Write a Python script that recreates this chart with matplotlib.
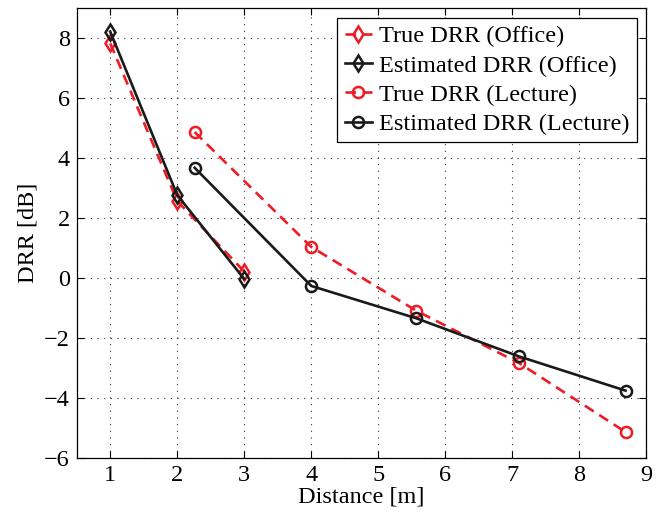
import matplotlib
matplotlib.use("Agg")
import matplotlib.pyplot as plt

plt.rcParams['font.family'] = ['Liberation Serif', 'DejaVu Serif']
plt.rcParams['mathtext.fontset'] = 'stix'

office_dist = [1, 2, 3]
office_true = [7.83, 2.57, 0.22]
office_est = [8.22, 2.77, -0.03]

lecture_dist = [2.26, 4.0, 5.57, 7.1, 8.69]
lecture_true = [4.87, 1.04, -1.09, -2.83, -5.13]
lecture_est = [3.68, -0.26, -1.34, -2.61, -3.75]

labels = ['True DRR (Office)', 'Estimated DRR (Office)',
          'True DRR (Lecture)', 'Estimated DRR (Lecture)']

fig = plt.figure(figsize=(6.67, 5.13), dpi=100)
ax = fig.add_axes([0.115, 0.107, 0.854, 0.877])

red = '#ee1c25'
blk = '#1a1a1a'
ms = 8
mew = 1.8
lw = 1.9

ax.plot(office_dist, office_true, color=red, ls=(0, (4, 2.5)), lw=lw, marker='d',
        ms=ms, mfc='none', mec=red, mew=mew, label=labels[0])
ax.plot(office_dist, office_est, color=blk, ls='-', lw=lw, marker='d',
        ms=ms, mfc='none', mec=blk, mew=mew, label=labels[1])
ax.plot(lecture_dist, lecture_true, color=red, ls=(0, (4, 2.5)), lw=lw, marker='o',
        ms=ms, mfc='none', mec=red, mew=mew, label=labels[2])
ax.plot(lecture_dist, lecture_est, color=blk, ls='-', lw=lw, marker='o',
        ms=ms, mfc='none', mec=blk, mew=mew, label=labels[3])

ax.set_xlim(0.5, 9)
ax.set_ylim(-6, 9)
ax.set_xticks(range(1, 10))
ax.set_yticks(range(-6, 9, 2))
ax.set_yticklabels(['\u2212' + str(abs(v)) if v < 0 else str(v) for v in range(-6, 9, 2)])
ax.tick_params(direction='in', labelsize=17.5, length=5, top=True, right=True, width=0.8, pad=5)
ax.grid(True, ls=(0, (1, 5)), color='#333333', lw=0.8)
for s in ax.spines.values():
    s.set_linewidth(0.9)

ax.set_xlabel('Distance [m]', fontsize=17.5, labelpad=0)
ax.set_ylabel('DRR [dB]', fontsize=17.5, labelpad=4)

leg = ax.legend(loc='upper right', fontsize=17.5, frameon=True, fancybox=False,
                edgecolor='black', framealpha=1, borderaxespad=0.4,
                handlelength=1.1, handletextpad=0.3, labelspacing=0.3, borderpad=0.3)
leg.get_frame().set_linewidth(0.9)

fig.savefig('out.png', dpi=100)
